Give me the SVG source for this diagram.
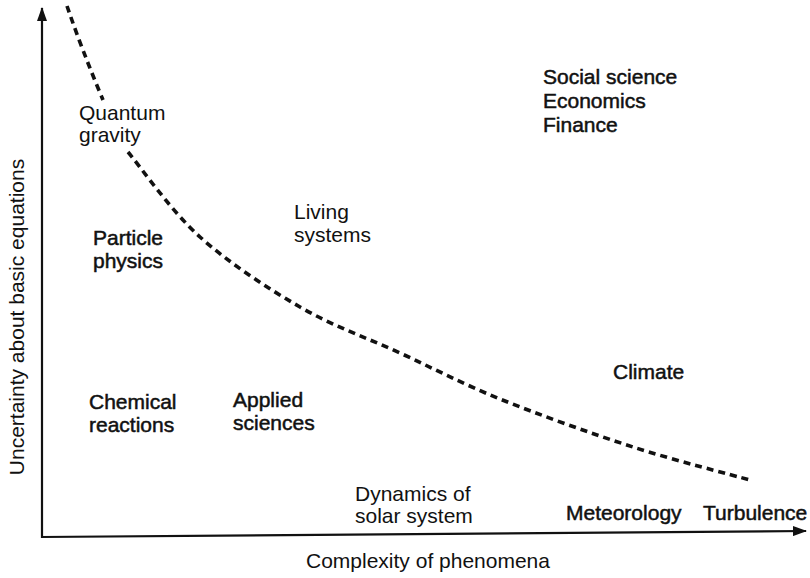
<svg xmlns="http://www.w3.org/2000/svg" width="810" height="578" viewBox="0 0 810 578">
<style>
text{font-family:"Liberation Sans",Arial,Helvetica,sans-serif;font-size:21px;fill:#111}
.heavy{stroke:#111;stroke-width:0.5}
.axis{stroke:#111;stroke-width:2.2;fill:none}
.curve{stroke:#111;stroke-width:3.6;fill:none;stroke-dasharray:7 5}
</style>
<defs>
<marker id="arrow" viewBox="0 0 14 10" refX="13" refY="5" markerWidth="14" markerHeight="10" markerUnits="userSpaceOnUse" orient="auto">
<path d="M0,0 L14,5 L0,10 Z" fill="#111"/>
</marker>
</defs>
<rect width="810" height="578" fill="#fff"/>
<g id="connectors">
<line class="axis" x1="42" y1="538" x2="42" y2="8" marker-end="url(#arrow)"/>
<line class="axis" x1="41" y1="537" x2="806" y2="531" marker-end="url(#arrow)"/>
<path class="curve" d="M67,6 Q82,50 103,100"/>
<path class="curve" d="M128,152 C140,166.2 171.3,211.2 200,237 C228.7,262.8 266.7,287.7 300,307 C333.3,326.3 366.7,337.7 400,353 C433.3,368.3 461.2,383.3 500,399 C538.8,414.7 591.3,433.5 633,447 C674.7,460.5 730.5,474.5 750,480"/>
</g>
<g id="quantum-gravity"><text x="79" y="120">Quantum</text><text x="79" y="142">gravity</text></g>
<g id="social-science" class="heavy"><text x="543" y="84">Social science</text><text x="543" y="108">Economics</text><text x="543" y="132">Finance</text></g>
<g id="living-systems"><text x="294" y="219">Living</text><text x="294" y="242">systems</text></g>
<g id="particle-physics" class="heavy"><text x="93" y="245">Particle</text><text x="93" y="268">physics</text></g>
<g id="climate" class="heavy"><text x="613" y="379">Climate</text></g>
<g id="chemical-reactions" class="heavy"><text x="89" y="409">Chemical</text><text x="89" y="432">reactions</text></g>
<g id="applied-sciences" class="heavy"><text x="233" y="407">Applied</text><text x="233" y="430">sciences</text></g>
<g id="solar-system"><text x="355" y="501">Dynamics of</text><text x="355" y="523">solar system</text></g>
<g id="meteorology" class="heavy"><text x="566" y="520">Meteorology</text></g>
<g id="turbulence" class="heavy"><text x="703" y="520">Turbulence</text></g>
<g id="x-label"><text x="306" y="568">Complexity of phenomena</text></g>
<g id="y-label"><text transform="translate(24,317) rotate(-90)" text-anchor="middle">Uncertainty about basic equations</text></g>
</svg>
